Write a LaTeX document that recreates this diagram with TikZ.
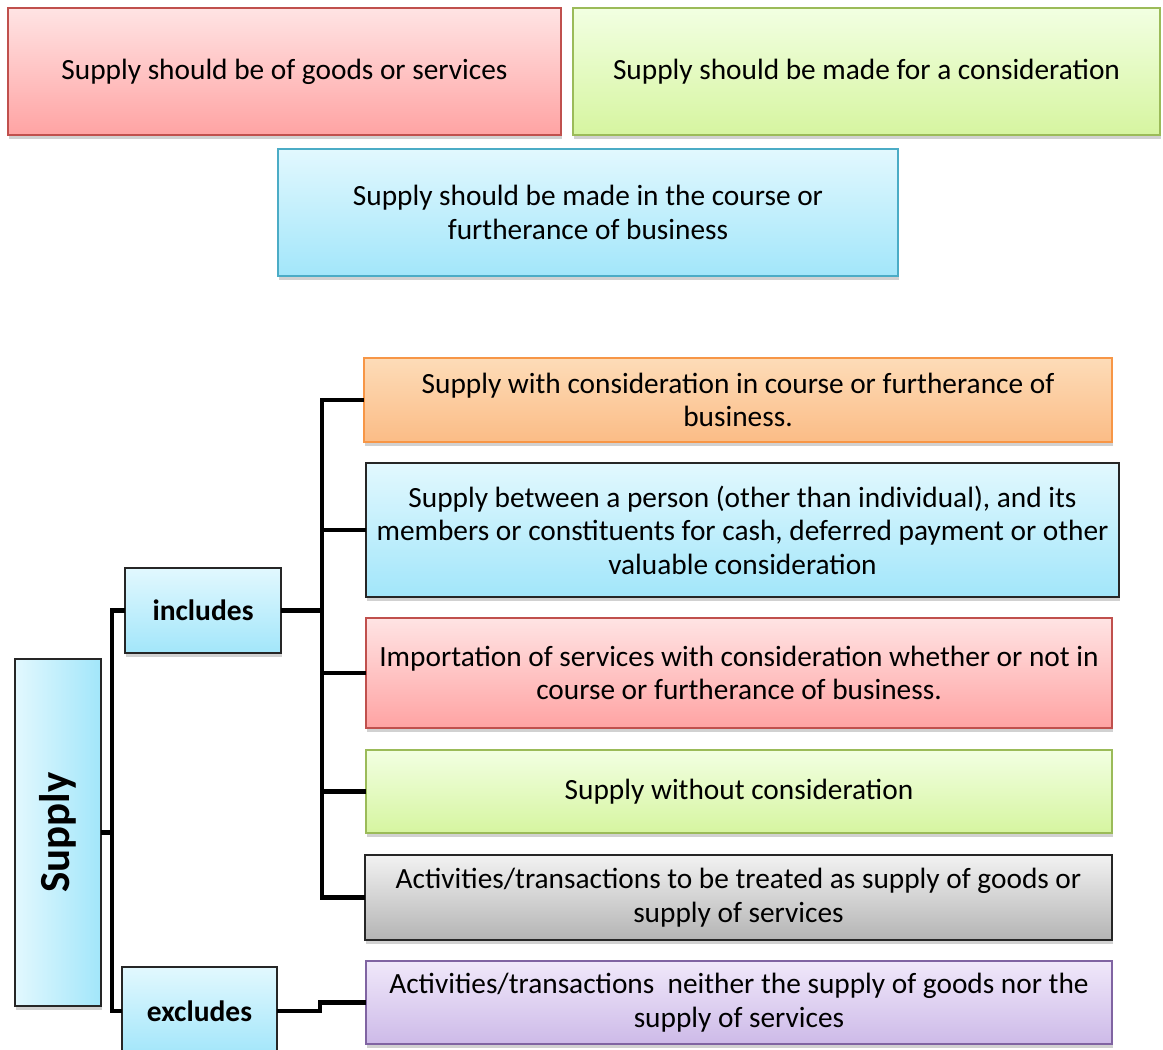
\documentclass[tikz,border=0pt]{standalone}
\usepackage{fontspec}
\setmainfont{Carlito}
\usepackage{tikz}
\usetikzlibrary{shadows}

\definecolor{redtop}{HTML}{FFE4E4}
\definecolor{redbot}{HTML}{FFA3A3}
\definecolor{redline}{HTML}{C0504D}
\definecolor{grntop}{HTML}{F2FFE2}
\definecolor{grnbot}{HTML}{D6F5A0}
\definecolor{grnline}{HTML}{9BBB59}
\definecolor{blutop}{HTML}{E2F8FE}
\definecolor{blubot}{HTML}{A2E6FA}
\definecolor{bluline}{HTML}{4BACC6}
\definecolor{orgtop}{HTML}{FDDCB8}
\definecolor{orgbot}{HTML}{FBBC86}
\definecolor{orgline}{HTML}{F79646}
\definecolor{grytop}{HTML}{F2F2F2}
\definecolor{grybot}{HTML}{B4B4B4}
\definecolor{purtop}{HTML}{F0E8FA}
\definecolor{purbot}{HTML}{CDBAE8}
\definecolor{purline}{HTML}{8064A2}

\tikzset{
  box/.style={rectangle, inner sep=0pt, outer sep=0pt, align=center, line width=0.9pt,
    font=\fontsize{16.7}{19}\selectfont,
    drop shadow={shadow xshift=0.6pt, shadow yshift=-2.4pt, fill=black!40, opacity=0.45}},
  redbox/.style={box, draw=redline, top color=redtop, bottom color=redbot},
  grnbox/.style={box, draw=grnline, top color=grntop, bottom color=grnbot},
  blubox/.style={box, draw=bluline, top color=blutop, bottom color=blubot},
  orgbox/.style={box, draw=orgline, top color=orgtop, bottom color=orgbot},
  grybox/.style={box, draw=black!85, top color=grytop, bottom color=grybot},
  purbox/.style={box, draw=purline, top color=purtop, bottom color=purbot},
  keybox/.style={box, draw=black!85, top color=blutop, bottom color=blubot, font=\fontsize{16.8}{19}\selectfont\bfseries},
  link/.style={line width=2.4pt, black}
}

\begin{document}
\begin{tikzpicture}[x=0.02cm, y=-0.02cm]
\useasboundingbox (0,0) rectangle (1163,1050);

% conditions
\node[redbox, minimum width=11.06cm, minimum height=2.54cm] (goods) at (284.5,71.5) {Supply should be of goods or services};
\node[grnbox, minimum width=11.74cm, minimum height=2.54cm] (consid) at (866.5,71.5) {Supply should be made for a consideration};
\node[blubox, minimum width=12.4cm, minimum height=2.54cm] (course) at (588,212.5) {Supply should be made in the course or\\furtherance of business};

% tree
\node[keybox, rotate=90, minimum width=6.94cm, minimum height=1.72cm, left color=blutop, right color=blubot, font=\fontsize{24.4}{27}\selectfont\bfseries] (supply) at (58,832.5) {Supply};
\node[keybox, minimum width=3.12cm, minimum height=1.7cm] (incl) at (203,610.5) {includes};
\node[keybox, minimum width=3.1cm, minimum height=1.76cm] (excl) at (199.5,1011) {excludes};

\node[orgbox, minimum width=14.96cm, minimum height=1.68cm] (inc1) at (738,400) {Supply with consideration in course or furtherance of\\business.};
\node[blubox, draw=black!85, minimum width=15.06cm, minimum height=2.68cm] (inc2) at (742.5,530) {Supply between a person (other than individual), and its\\members or constituents for cash, deferred payment or other\\valuable consideration};
\node[redbox, minimum width=14.92cm, minimum height=2.2cm] (inc3) at (739,673) {Importation of services with consideration whether or not in\\course or furtherance of business.};
\node[grnbox, minimum width=14.92cm, minimum height=1.66cm] (inc4) at (739,791.5) {Supply without consideration};
\node[grybox, minimum width=14.94cm, minimum height=1.7cm] (inc5) at (738.5,897.5) {Activities/transactions to be treated as supply of goods or\\supply of services};
\node[purbox, minimum width=14.92cm, minimum height=1.66cm] (exc1) at (739,1002.5) {Activities/transactions\ \ neither the supply of goods nor the\\supply of services};

\coordinate (sj) at (112,832.5);
\coordinate (ij) at (322,610.5);
\coordinate (ej) at (320,1002.5);

\draw[link] (supply.south) -- (sj);
\draw[link] (incl.west) -| (sj) |- (excl.west);
\draw[link] (incl.east) -- (ij);
\draw[link] (inc1.west) -| (ij);
\draw[link] (inc5.west) -| (ij);
\draw[link] (inc2.west) -- (inc2.west -| ij);
\draw[link] (inc3.west) -- (inc3.west -| ij);
\draw[link] (inc4.west) -- (inc4.west -| ij);
\draw[link] (excl.east) -| (ej) -- (exc1.west);
\end{tikzpicture}
\end{document}
